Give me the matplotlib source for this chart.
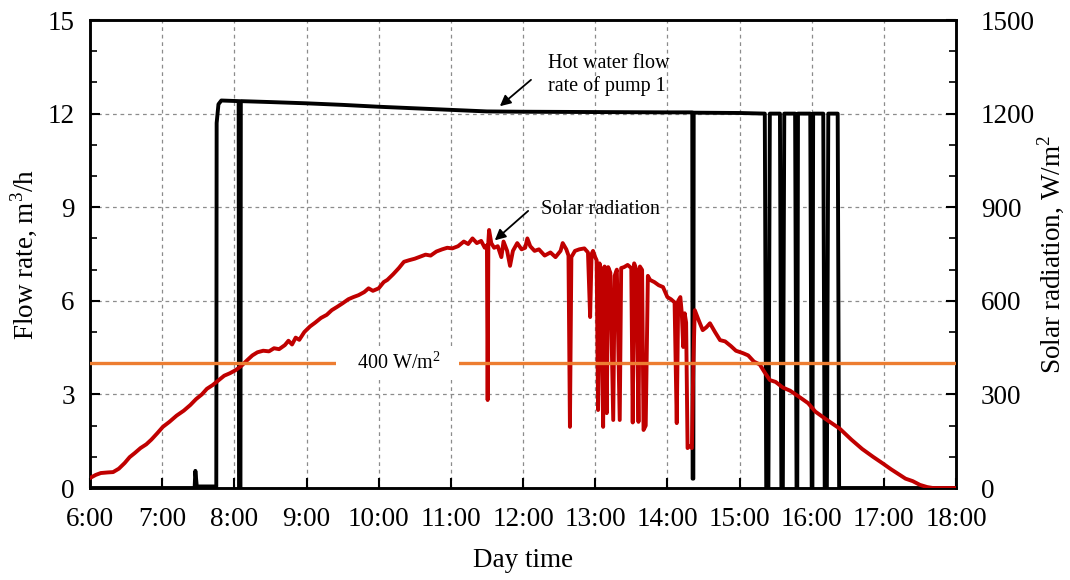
import matplotlib
matplotlib.use('Agg')
import matplotlib.pyplot as plt

plt.rcParams['font.family'] = ['Liberation Serif', 'DejaVu Serif']
plt.rcParams['mathtext.fontset'] = 'custom'
plt.rcParams['mathtext.rm'] = 'Liberation Serif'

# hot water flow rate of pump 1 (m3/h), time in hours
flow_time = [6.00, 7.45, 7.46, 7.48, 7.75, 7.755, 7.78, 7.82, 8.06, 8.065, 8.085, 8.09,
             8.50, 9.00, 9.50, 10.00, 10.50, 11.00, 11.50, 12.00, 13.00, 14.00, 14.345,
             14.35, 14.36, 14.365, 15.00, 15.35,
             15.37, 15.40, 15.42, 15.56, 15.58, 15.60, 15.62, 15.77, 15.79, 15.80, 15.81,
             15.98, 16.00, 16.01, 16.02, 16.16, 16.18, 16.21, 16.23, 16.36, 16.38, 18.00]
flow_rate = [0, 0, 0.55, 0.05, 0.05, 11.7, 12.3, 12.42, 12.40, 0, 0, 12.40,
             12.37, 12.33, 12.28, 12.22, 12.17, 12.12, 12.07, 12.06, 12.05, 12.04, 12.04,
             0.3, 0.3, 12.03, 12.02, 12.00,
             0, 0, 12.0, 12.0, 0, 0, 12.0, 12.0, 0, 0, 12.0,
             12.0, 0, 0, 12.0, 12.0, 0, 0, 12.0, 12.0, 0, 0]

# solar radiation (W/m2)
solar_time = [6.00, 6.08, 6.15, 6.25, 6.32, 6.40, 6.48, 6.55, 6.62, 6.70, 6.78, 6.85, 6.93,
              7.01, 7.10, 7.20, 7.30, 7.39, 7.47, 7.55, 7.62, 7.70, 7.78, 7.86, 7.94,
              8.02, 8.10, 8.18, 8.25, 8.32, 8.40, 8.48, 8.55, 8.62, 8.70, 8.75, 8.80, 8.85,
              8.90, 8.97, 9.05, 9.12, 9.20, 9.28, 9.35, 9.42, 9.50, 9.58, 9.65, 9.72, 9.80,
              9.86, 9.92, 10.00, 10.07, 10.12, 10.20, 10.28, 10.35, 10.42, 10.50, 10.58,
              10.65, 10.72, 10.80, 10.88, 10.95, 11.02, 11.10, 11.18, 11.24, 11.30, 11.36,
              11.42, 11.47, 11.50, 11.51, 11.52, 11.53, 11.56, 11.60, 11.65, 11.70, 11.73,
              11.78, 11.82, 11.86, 11.92, 11.98, 12.03, 12.06, 12.10, 12.16, 12.22, 12.30,
              12.38, 12.45, 12.52, 12.55, 12.60, 12.63, 12.65, 12.67, 12.72, 12.78, 12.85,
              12.90, 12.93, 12.95, 12.97, 13.00, 13.02, 13.04, 13.06, 13.08, 13.11, 13.13,
              13.16, 13.18, 13.21, 13.25, 13.27, 13.30, 13.34, 13.36, 13.40, 13.45, 13.50,
              13.52, 13.54, 13.57, 13.60, 13.62, 13.65, 13.67, 13.70, 13.73, 13.76, 13.82,
              13.88, 13.94, 14.00, 14.05, 14.10, 14.13, 14.15, 14.18, 14.20, 14.22, 14.24,
              14.26, 14.28, 14.31, 14.34, 14.36, 14.38, 14.43, 14.49, 14.54, 14.59, 14.66,
              14.73, 14.80, 14.88, 14.95, 15.05, 15.12, 15.20, 15.28, 15.35, 15.42, 15.50,
              15.60, 15.70, 15.84, 15.95, 16.05, 16.20, 16.39, 16.55, 16.70, 16.85, 16.99,
              17.10, 17.20, 17.30, 17.40, 17.50, 17.60, 17.68, 18.00]
solar_wm2 = [32, 42, 48, 50, 51, 62, 80, 99, 112, 128, 140, 155, 175,
             196, 212, 232, 248, 266, 285, 300, 318, 330, 345, 360, 368,
             378, 392, 410, 425, 435, 440, 438, 448, 445, 458, 472, 460, 482,
             475, 500, 518, 530, 545, 555, 570, 580, 592, 605, 612, 618, 628,
             640, 632, 640, 660, 667, 685, 705, 725, 730, 735, 742,
             748, 745, 758, 765, 770, 768, 775, 790, 782, 800, 785,
             792, 770, 778, 282, 790, 827, 785, 770, 775, 740, 790,
             760, 712, 760, 785, 765, 770, 800, 775, 760, 765, 745,
             755, 740, 760, 785, 765, 745, 196, 740, 760, 765, 768,
             755, 548, 750, 760, 740, 730, 250, 720, 700, 196, 710,
             240, 708, 690, 218, 680, 700, 218, 705, 708, 715, 705,
             210, 720, 700, 212, 710, 699, 186, 200, 680, 667, 660,
             650, 644, 612, 605, 595, 208, 600, 612, 560, 452, 560,
             530, 128, 135, 128, 400, 570, 540, 506, 515, 528, 500,
             474, 470, 455, 440, 432, 425, 405, 396, 370, 346, 340,
             322, 312, 290, 272, 245, 220, 190, 155, 125, 100, 78,
             60, 45, 30, 22, 10, 3, 0, 0]

threshold = 400
hour_ticks = list(range(6, 19))
hour_labels = ['%d:00' % h for h in hour_ticks]

fig = plt.figure(figsize=(10.7, 5.8), dpi=100)
ax = fig.add_axes([0.0841, 0.1586, 0.8094, 0.8069])
ax2 = ax.twinx()

ax.plot(flow_time, flow_rate, color='black', lw=2.8, zorder=3)
ax2.plot(solar_time, solar_wm2, color='#c00000', lw=2.8, zorder=3)
ax2.axhline(threshold, color='#ed7d31', lw=2.4, zorder=4)

ax.set_xlim(6, 18)
ax.set_ylim(0, 15)
ax2.set_ylim(0, 1500)
ax.set_xticks(hour_ticks)
ax.set_xticklabels(hour_labels)
ax.set_yticks(range(0, 16, 3))
ax.set_yticks(range(0, 16), minor=True)
ax2.set_yticks(range(0, 1501, 300))
ax2.set_yticks(range(0, 1501, 100), minor=True)

ax.grid(True, which='major', color='#8c8c8c', linestyle=(0, (3, 3)), lw=0.9)
ax.tick_params(axis='x', direction='in', length=7, width=1.5, labelsize=19.5, pad=14)
ax.tick_params(axis='y', which='major', direction='in', length=7, width=1.5, labelsize=19.5, pad=11)
ax.tick_params(axis='y', which='minor', direction='in', length=5, width=1.2)
ax2.tick_params(axis='y', which='major', direction='in', length=7, width=1.5, labelsize=19.5, pad=18)
ax2.tick_params(axis='y', which='minor', direction='in', length=5, width=1.2)
for a in (ax, ax2):
    for s in a.spines.values():
        s.set_linewidth(1.8)

ax.set_xlabel('Day time', fontsize=19.5)
ax.xaxis.set_label_coords(0.5, -0.128)
ax.set_ylabel('Flow rate, m$^3$/h', fontsize=19.5)
ax.yaxis.set_label_coords(-0.058, 0.5)
ax2.set_ylabel('Solar radiation, W/m$^2$', fontsize=19.5)
ax2.yaxis.set_label_coords(1.092, 0.5)

# labels and arrows
ax2.text(10.26, threshold, '   400 W/m$^2$   ', fontsize=14.5, ha='center', va='center',
         bbox=dict(boxstyle='square,pad=0.3', facecolor='white', edgecolor='none'), zorder=5)
ax.text(12.35, 13.25, 'Hot water flow\nrate of pump 1', fontsize=14.5, ha='left', va='center',
        linespacing=1.2)
ax.annotate('', xy=(11.65, 12.18), xytext=(12.14, 13.14),
            arrowprops=dict(arrowstyle='-|>', color='black', lw=1.3, mutation_scale=16))
ax2.text(12.25, 894, 'Solar radiation', fontsize=14.5, ha='left', va='center')
ax2.annotate('', xy=(11.58, 788), xytext=(12.10, 894),
             arrowprops=dict(arrowstyle='-|>', color='black', lw=1.3, mutation_scale=16))

fig.savefig('out.png', dpi=100)
